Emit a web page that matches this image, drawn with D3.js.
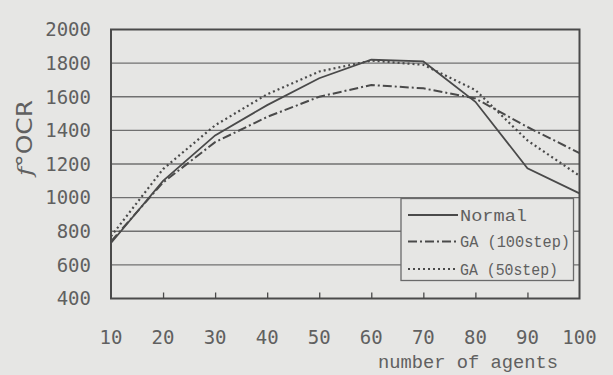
<!DOCTYPE html>
<html><head><meta charset="utf-8">
<script src="https://cdn.jsdelivr.net/npm/d3@7"></script>
<style>
html,body{margin:0;padding:0;background:#e6e6e4;}
svg{display:block;}
</style></head>
<body>
<svg id="chart" width="613" height="375"></svg>
<script>
const agents = [10,20,30,40,50,60,70,80,90,100];
const normal = [730,1100,1370,1550,1710,1820,1810,1570,1175,1025];
const ga100  = [740,1090,1330,1480,1600,1670,1650,1590,1420,1265];
const ga50   = [770,1170,1430,1615,1750,1815,1790,1640,1340,1130];
const yTicks = [400,600,800,1000,1200,1400,1600,1800,2000];
const seriesNames = ["Normal","GA (100step)","GA (50step)"];

const svg = d3.select("#chart");
const ink = "#4a4a4a", txt = "#606060", bg = "#e6e6e4";
svg.append("rect").attr("width",613).attr("height",375).attr("fill",bg);

const x = d3.scaleLinear().domain([10,100]).range([111,579.5]);
const y = d3.scaleLinear().domain([400,2000]).range([298.5,29.5]);

// gridlines
svg.append("g").selectAll("line").data(yTicks.slice(1,-1)).join("line")
  .attr("x1",x(10)).attr("x2",x(100)).attr("y1",d=>y(d)).attr("y2",d=>y(d))
  .attr("stroke","#707070").attr("stroke-width",1.4);

// x-axis ticks (inward)
const xAxis = d3.axisBottom(x).tickValues(agents.slice(1,-1)).tickSize(-6).tickFormat("");
const gx = svg.append("g").attr("transform",`translate(0,${y(400)})`).call(xAxis);
gx.select(".domain").remove();
gx.selectAll("line").attr("stroke",ink).attr("stroke-width",1.3);

// frame
svg.append("rect").attr("x",x(10)).attr("y",y(2000)).attr("width",x(100)-x(10)).attr("height",y(400)-y(2000))
  .attr("fill","none").attr("stroke",ink).attr("stroke-width",2);

// y tick labels
svg.append("g").selectAll("text").data(yTicks).join("text")
  .attr("x",91).attr("y",d=>y(d)).attr("dy","0.36em").attr("text-anchor","end")
  .attr("font-family","DejaVu Sans Mono").attr("font-size",19).attr("fill",txt)
  .text(d=>d);

// x tick labels
svg.append("g").selectAll("text").data(agents).join("text")
  .attr("x",d=>x(d)).attr("y",344).attr("text-anchor","middle")
  .attr("font-family","DejaVu Sans Mono").attr("font-size",19).attr("fill",txt)
  .text(d=>d);

// axis titles
svg.append("text").attr("x",378).attr("y",368)
  .attr("font-family","Liberation Mono").attr("font-size",18).attr("fill",txt)
  .attr("textLength",180).attr("lengthAdjust","spacingAndGlyphs")
  .text("number of agents");
const yt = svg.append("text").attr("transform","translate(32,138) rotate(-90)")
  .attr("text-anchor","middle").attr("font-family","DejaVu Sans").attr("font-size",21).attr("fill",txt)
  .attr("textLength",76).attr("lengthAdjust","spacingAndGlyphs");
yt.append("tspan").attr("font-style","italic").attr("font-family","DejaVu Serif").text("f");
yt.append("tspan").text("°OCR");

// series
const styles = [
  {data:normal, dash:null, w:1.8},
  {data:ga100, dash:"9,3,2,3", w:2},
  {data:ga50, dash:"2,3", w:2.2}
];
const line = d3.line().x((d,i)=>x(agents[i])).y(d=>y(d));
styles.forEach(s=>{
  svg.append("path").attr("d",line(s.data)).attr("fill","none")
    .attr("stroke",ink).attr("stroke-width",s.w)
    .attr("stroke-dasharray",s.dash);
});

// legend
const lg = svg.append("g");
lg.append("rect").attr("x",401).attr("y",198.5).attr("width",172.5).attr("height",82)
  .attr("fill",bg).attr("stroke","#6a6a6a").attr("stroke-width",1.3);
const rows = [215,241.5,269];
const widths = [67,110,98];
styles.forEach((s,i)=>{
  lg.append("line").attr("x1",408).attr("x2",458).attr("y1",rows[i]).attr("y2",rows[i])
    .attr("stroke",ink).attr("stroke-width",s.w).attr("stroke-dasharray",s.dash);
  lg.append("text").attr("x",460).attr("y",rows[i]).attr("dy","0.35em")
    .attr("font-family","Liberation Mono").attr("font-size",16).attr("fill",txt)
    .attr("textLength",widths[i]).attr("lengthAdjust","spacingAndGlyphs")
    .text(seriesNames[i]);
});
</script>
</body></html>
